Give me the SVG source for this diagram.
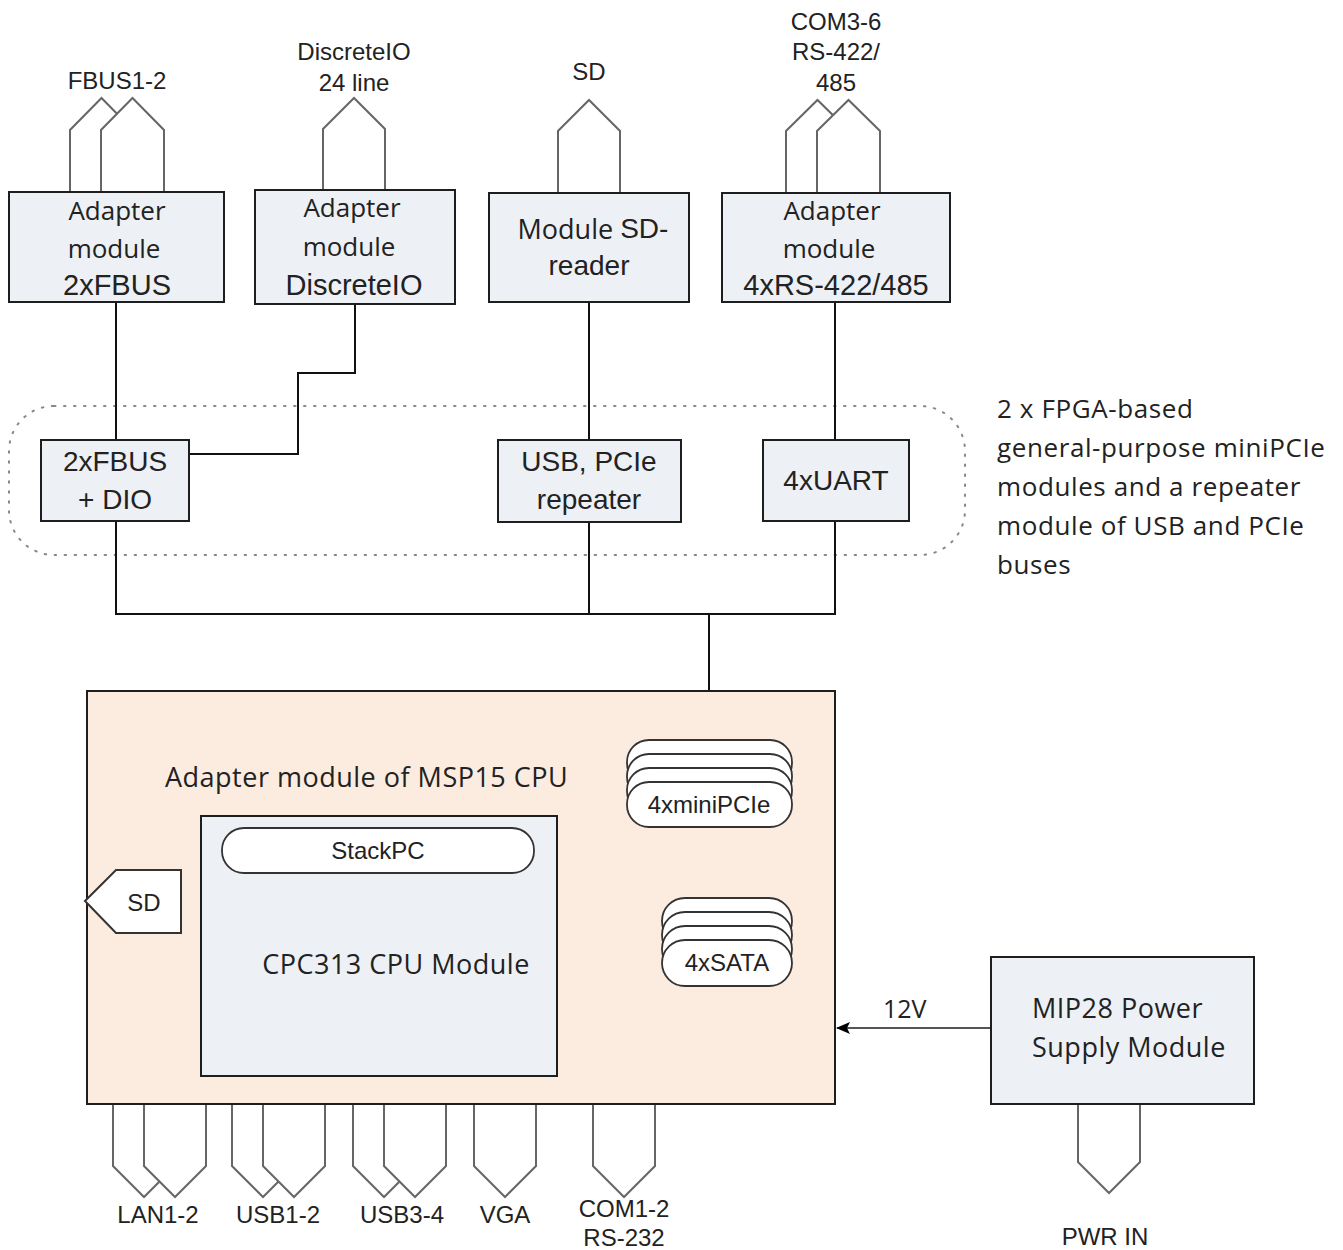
<svg xmlns="http://www.w3.org/2000/svg" width="1343" height="1250" viewBox="0 0 1343 1250">
<defs>
<style>
.box{fill:#edf0f5;stroke:#1e1e1e;stroke-width:2}
.conn{fill:#fff;stroke:#666;stroke-width:2;stroke-linejoin:miter}
.pill{fill:#fff;stroke:#333;stroke-width:1.8}
.wire{fill:none;stroke:#111;stroke-width:2}
.os{font-family:"Open Sans","Noto Sans",sans-serif;fill:#222}
.ar{font-family:"Liberation Sans",Arial,sans-serif;fill:#222}
.c{text-anchor:middle;dominant-baseline:central}
</style>
<marker id="arr" viewBox="0 0 14 12" refX="13" refY="6" markerWidth="14" markerHeight="12" markerUnits="userSpaceOnUse" orient="auto">
<path d="M0,0 L14,6 L0,12 L3,6 Z" fill="#000"/>
</marker>
</defs>
<rect width="1343" height="1250" fill="#fff"/>

<!-- dotted FPGA region -->
<rect id="fpga-region" x="9" y="406" width="956" height="149" rx="45" ry="45" fill="none" stroke="#888" stroke-width="2" stroke-dasharray="1.5 8.5" stroke-linecap="round"/>

<g id="connectors">
<path class="wire" d="M116,302 V440"/>
<path class="wire" d="M355,304 V373 H298 V454 H190"/>
<path class="wire" d="M589,302 V439"/>
<path class="wire" d="M835,302 V439"/>
<path class="wire" d="M116,521 V614 H835 V521"/>
<path class="wire" d="M589,522 V614"/>
<path class="wire" d="M709,614 V740"/>
<path d="M990,1028 H837" fill="none" stroke="#555" stroke-width="2" marker-end="url(#arr)"/>
<text class="os" x="883" y="1018" font-size="25">12V</text>
</g>

<!-- top port connectors -->
<g id="port-fbus">
<path class="conn" d="M70,192 V130 L101.5,98 L133,130 V192"/>
<path class="conn" d="M101,192 V130 L132.5,98 L164,130 V192"/>
<text class="ar c" x="117" y="80" font-size="24">FBUS1-2</text>
</g>
<g id="port-dio">
<path class="conn" d="M323,190 V129 L354,98 L385,129 V190"/>
<text class="ar c" x="354" y="51" font-size="24">DiscreteIO</text>
<text class="ar c" x="354" y="82" font-size="24">24 line</text>
</g>
<g id="port-sd">
<path class="conn" d="M558,193 V131 L589,100 L620,131 V193"/>
<text class="ar c" x="589" y="71" font-size="24">SD</text>
</g>
<g id="port-com36">
<path class="conn" d="M786,193 V131 L817.5,100 L849,131 V193"/>
<path class="conn" d="M817,193 V131 L848.5,100 L880,131 V193"/>
<text class="ar c" x="836" y="21" font-size="24">COM3-6</text>
<text class="ar c" x="836" y="51" font-size="24">RS-422/</text>
<text class="ar c" x="836" y="82" font-size="24">485</text>
</g>

<!-- top modules -->
<g id="adapter-fbus">
<rect class="box" x="9" y="192" width="215" height="110"/>
<text class="os c" x="117" y="210" font-size="26">Adapter</text>
<text class="os c" x="114" y="248" font-size="26">module</text>
<text class="ar c" x="117" y="285" font-size="29">2xFBUS</text>
</g>
<g id="adapter-dio">
<rect class="box" x="255" y="190" width="200" height="114"/>
<text class="os c" x="352" y="207" font-size="26">Adapter</text>
<text class="os c" x="349" y="246" font-size="26">module</text>
<text class="ar c" x="354" y="285" font-size="29">DiscreteIO</text>
</g>
<g id="module-sd">
<rect class="box" x="489" y="193" width="200" height="109"/>
<text class="c" x="593" y="228" font-size="27"><tspan class="os">Module </tspan><tspan class="ar" font-size="28">SD-</tspan></text>
<text class="ar c" x="589" y="265" font-size="28">reader</text>
</g>
<g id="adapter-rs">
<rect class="box" x="722" y="193" width="228" height="109"/>
<text class="os c" x="832" y="210" font-size="26">Adapter</text>
<text class="os c" x="829" y="248" font-size="26">module</text>
<text class="ar c" x="836" y="285" font-size="29">4xRS-422/485</text>
</g>

<!-- FPGA modules -->
<g id="fbus-dio">
<rect class="box" x="41" y="440" width="148" height="81"/>
<text class="ar c" x="115" y="461" font-size="28">2xFBUS</text>
<text class="ar c" x="115" y="499" font-size="28">+ DIO</text>
</g>
<g id="usb-pcie">
<rect class="box" x="498" y="440" width="183" height="82"/>
<text class="ar c" x="589" y="461" font-size="28">USB, PCIe</text>
<text class="ar c" x="589" y="499" font-size="28">repeater</text>
</g>
<g id="uart">
<rect class="box" x="763" y="440" width="146" height="81"/>
<text class="ar c" x="836" y="480" font-size="28">4xUART</text>
</g>

<g id="fpga-note" letter-spacing="0.6">
<text class="os" x="997" y="418" font-size="26">2 x FPGA-based</text>
<text class="os" x="997" y="457" font-size="26">general-purpose miniPCIe</text>
<text class="os" x="997" y="496" font-size="26">modules and a repeater</text>
<text class="os" x="997" y="535" font-size="26">module of USB and PCIe</text>
<text class="os" x="997" y="574" font-size="26">buses</text>
</g>

<!-- bottom port connectors -->
<g id="port-lan">
<path class="conn" d="M113,1104 V1166 L144,1197 L175,1166 V1104"/>
<path class="conn" d="M144,1104 V1166 L175,1197 L206,1166 V1104"/>
<text class="ar c" x="158" y="1214" font-size="24">LAN1-2</text>
</g>
<g id="port-usb12">
<path class="conn" d="M232,1104 V1166 L263,1197 L294,1166 V1104"/>
<path class="conn" d="M263,1104 V1166 L294,1197 L325,1166 V1104"/>
<text class="ar c" x="278" y="1214" font-size="24">USB1-2</text>
</g>
<g id="port-usb34">
<path class="conn" d="M353,1104 V1166 L384,1197 L415,1166 V1104"/>
<path class="conn" d="M384,1104 V1166 L415,1197 L446,1166 V1104"/>
<text class="ar c" x="402" y="1214" font-size="24">USB3-4</text>
</g>
<g id="port-vga">
<path class="conn" d="M474,1104 V1166 L505,1197 L536,1166 V1104"/>
<text class="ar c" x="505" y="1214" font-size="24">VGA</text>
</g>
<g id="port-com12">
<path class="conn" d="M593,1104 V1166 L624,1197 L655,1166 V1104"/>
<text class="ar c" x="624" y="1208" font-size="24">COM1-2</text>
<text class="ar c" x="624" y="1237" font-size="24">RS-232</text>
</g>
<g id="port-pwr">
<path class="conn" d="M1078,1104 V1162 L1109,1193 L1140,1162 V1104"/>
<text class="ar c" x="1105" y="1236" font-size="24">PWR IN</text>
</g>

<!-- CPU adapter -->
<g id="cpu-adapter">
<rect x="87" y="691" width="748" height="413" fill="#fcebdf" stroke="#1e1e1e" stroke-width="2"/>
<text class="os" x="165" y="787" font-size="27" letter-spacing="0.5">Adapter module of MSP15 CPU</text>
</g>
<g id="sd-slot">
<polygon points="85,901 116,870 181,870 181,933 116,933" fill="#fff" stroke="#333" stroke-width="2"/>
<text class="ar c" x="144" y="902" font-size="24">SD</text>
</g>
<g id="minipcie">
<rect class="pill" x="627" y="740" width="165" height="45" rx="22"/>
<rect class="pill" x="627" y="754" width="165" height="45" rx="22"/>
<rect class="pill" x="627" y="768" width="165" height="45" rx="22"/>
<rect class="pill" x="627" y="782" width="165" height="45" rx="22"/>
<text class="ar c" x="709" y="804" font-size="24">4xminiPCIe</text>
</g>
<g id="sata">
<rect class="pill" x="662" y="898" width="130" height="46" rx="23"/>
<rect class="pill" x="662" y="912" width="130" height="46" rx="23"/>
<rect class="pill" x="662" y="926" width="130" height="46" rx="23"/>
<rect class="pill" x="662" y="940" width="130" height="46" rx="23"/>
<text class="ar c" x="727" y="962" font-size="24">4xSATA</text>
</g>
<g id="cpc313">
<rect class="box" x="201" y="816" width="356" height="260"/>
<rect class="pill" x="222" y="828" width="312" height="45" rx="22"/>
<text class="ar c" x="378" y="850" font-size="24">StackPC</text>
<text class="os c" x="396" y="963" font-size="27" letter-spacing="0.5">CPC313 CPU Module</text>
</g>

<g id="power" letter-spacing="0.5">
<rect class="box" x="991" y="957" width="263" height="147"/>
<text class="os" x="1032" y="1018" font-size="27">MIP28 Power</text>
<text class="os" x="1032" y="1057" font-size="27">Supply Module</text>
</g>
</svg>
